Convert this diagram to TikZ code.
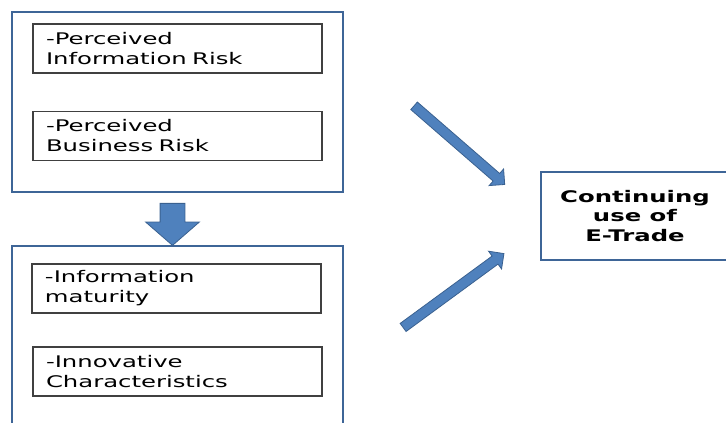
\documentclass[tikz,border=0pt]{standalone}
\usepackage{fontspec}
\newfontfamily\diagfont[FakeStretch=1.52]{DejaVu Sans}
\usetikzlibrary{shapes.arrows}
\definecolor{groupline}{HTML}{3E6597}
\definecolor{itemline}{HTML}{404040}
\definecolor{arrowfill}{HTML}{4F81BD}
\definecolor{arrowline}{HTML}{3A6190}
\tikzset{
  groupbox/.style={draw=groupline, line width=2.6pt, minimum width=331pt},
  itembox/.style={draw=itemline, line width=1.2pt, minimum width=289pt, minimum height=49pt,
    text width=263pt, inner xsep=13pt, align=left, font=\diagfont\fontsize{16}{20}\selectfont},
  blockarrow/.style={single arrow, draw=arrowline, fill=arrowfill, line width=0.8pt, inner xsep=0pt, sloped}
}
\begin{document}
\begin{tikzpicture}[x=1pt, y=-1pt]
\useasboundingbox (0,0) rectangle (726,423);
\node[groupbox, minimum height=180pt] (group0) at (177.5,102){};
\node[groupbox, minimum height=190pt] (group1) at (177.5,341){};
\node[itembox] (item0) at (177.5,48.5){-Perceived\\Information Risk};
\node[itembox] (item1) at (177.5,136){-Perceived\\Business Risk};
\node[itembox] (item2) at (176.5,288.5){-Information\\maturity};
\node[itembox] (item3) at (177.5,371.5){-Innovative\\Characteristics};
\node[draw=groupline, line width=2.2pt, minimum width=188pt, minimum height=88pt,
  align=center, font=\diagfont\bfseries\fontsize{16}{19.5}\selectfont] (use0) at (635,216){Continuing\\use of\\E-Trade};
\coordinate (tail0) at (172.5,198);
\coordinate (tip0) at (172.5,240);
\path (tail0) -- node[blockarrow, inner ysep=12pt, minimum height=42pt, single arrow head extend=14.5pt, single arrow tip angle=98]{} (tip0);
\coordinate (tail1) at (412,104);
\coordinate (tip1) at (503,183);
\path (tail1) -- node[blockarrow, inner ysep=4.6pt, minimum height=120pt, single arrow head extend=6pt]{} (tip1);
\coordinate (tail2) at (401,329);
\coordinate (tip2) at (502,255);
\path (tail2) -- node[blockarrow, inner ysep=4.6pt, minimum height=125pt, single arrow head extend=6pt]{} (tip2);

\end{tikzpicture}
\end{document}
